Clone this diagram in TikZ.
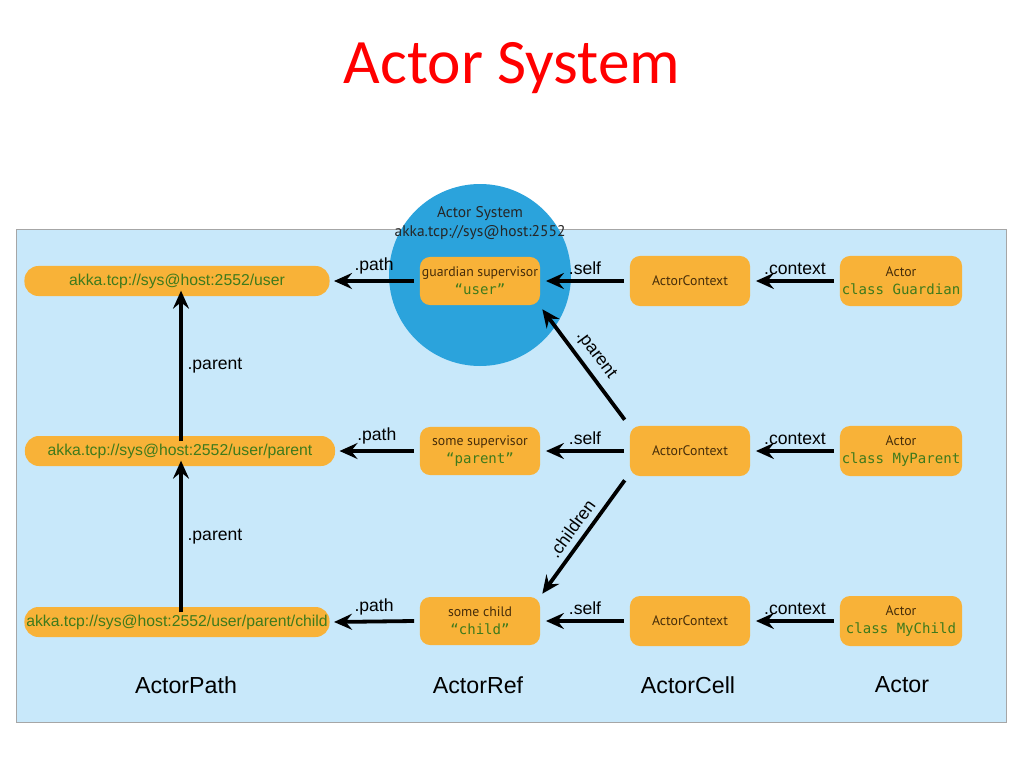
\documentclass[tikz,border=0pt]{standalone}
\usepackage{fontspec}
\setmainfont{Carlito}
\newfontfamily\lblfont{Liberation Sans}
\newfontfamily\boxfont{PT Sans}
\setmonofont{DejaVu Sans Mono}
\usetikzlibrary{arrows.meta}
\definecolor{panelblue}{RGB}{200,232,250}
\definecolor{sysblue}{RGB}{43,163,220}
\definecolor{boxorange}{RGB}{248,178,56}
\definecolor{codegreen}{RGB}{62,122,28}
\definecolor{boxbrown}{RGB}{70,45,10}
\tikzset{
  pathbox/.style={fill=boxorange, rounded corners=0.35cm, minimum width=7.625cm, minimum height=0.75cm, inner sep=0, font=\lblfont\fontsize{11.2}{13}\selectfont, text=codegreen},
  refbox/.style={fill=boxorange, rounded corners=0.25cm, minimum width=3cm, minimum height=1.2cm, inner sep=0, align=center, font=\boxfont\fontsize{9.8}{13}\selectfont, text=boxbrown},
  link/.style={line width=0.95mm, -{Stealth[length=4.5mm, width=4mm, inset=1.6mm]}},
  linklbl/.style={font=\lblfont\fontsize{12.5}{14}\selectfont},
  kind/.style={font=\lblfont\fontsize{16.5}{18}\selectfont}
}
\newcommand{\code}[1]{{\ttfamily\fontsize{10}{12}\selectfont\color{codegreen}#1}}
\begin{document}
\begin{tikzpicture}[x=0.025cm, y=-0.025cm]
			%%%%% START %%%%%
			\useasboundingbox (0, 0) rectangle (1024, 768);
			
			\node[text=red, font=\fontsize{45}{50}\selectfont] (title) at (512, 68) {Actor System};
			
			\draw[fill=panelblue, draw=black!35, line width=0.2mm] (16, 229) rectangle (1006, 722);
			\draw[fill=sysblue, draw=none] (480, 275) circle (91);
			\node[align=center, font=\boxfont\fontsize{11}{13.5}\selectfont, text=black!85] (sysname) at (480, 223) {Actor System\\akka.tcp://sys@host:2552};
			
			% ActorPath
			\node[pathbox] (pUser) at (177, 281) {akka.tcp://sys@host:2552/user};
			\node[pathbox, minimum width=7.75cm] (pParent) at (180, 451) {akka.tcp://sys@host:2552/user/parent};
			\node[pathbox] (pChild) at (177, 622) {akka.tcp://sys@host:2552/user/parent/child};
			\coordinate (upLine) at (181, 0);
			
			% ActorRef
			\node[refbox] (rUser) at (480, 281) {guardian supervisor\\\code{“user”}};
			\node[refbox] (rParent) at (480, 451) {some supervisor\\\code{“parent”}};
			\node[refbox] (rChild) at (480, 621) {some child\\\code{“child”}};
			
			% ActorCell
			\node[refbox, minimum height=1.25cm] (cUser) at (690, 281) {ActorContext};
			\node[refbox, minimum height=1.25cm] (cParent) at (690, 451) {ActorContext};
			\node[refbox, minimum height=1.25cm] (cChild) at (690, 621) {ActorContext};
			
			% Actor
			\node[refbox, minimum width=3.05cm, minimum height=1.25cm] (aGuardian) at (901, 281) {Actor\\\code{class Guardian}};
			\node[refbox, minimum width=3.05cm, minimum height=1.25cm] (aParent) at (901, 451) {Actor\\\code{class MyParent}};
			\node[refbox, minimum width=3.05cm, minimum height=1.25cm] (aChild) at (901, 621) {Actor\\\code{class MyChild}};
			
			% links
			\draw[link] ([xshift=-4]rUser.west) -- node[linklbl, above] {.path} ([xshift=3]pUser.east);
			\draw[link] ([xshift=-4]rParent.west) -- node[linklbl, above] {.path} ([xshift=3]pParent.east);
			\draw[link] ([xshift=-4]rChild.west) -- node[linklbl, above] {.path} ([xshift=3]pChild.east);
			
			\draw[link] ([xshift=-4]cUser.west) -- node[linklbl, above] {.self} ([xshift=4]rUser.east);
			\draw[link] ([xshift=-4]cParent.west) -- node[linklbl, above] {.self} ([xshift=4]rParent.east);
			\draw[link] ([xshift=-4]cChild.west) -- node[linklbl, above] {.self} ([xshift=4]rChild.east);
			
			\draw[link] ([xshift=-4]aGuardian.west) -- node[linklbl, above] {.context} ([xshift=4]cUser.east);
			\draw[link] ([xshift=-4]aParent.west) -- node[linklbl, above] {.context} ([xshift=4]cParent.east);
			\draw[link] ([xshift=-4]aChild.west) -- node[linklbl, above] {.context} ([xshift=4]cChild.east);
			
			\draw[link] ([yshift=-4]upLine |- pParent.north) -- node[linklbl, right] {.parent} ([yshift=4]upLine |- pUser.south);
			\draw[link] ([yshift=-4]upLine |- pChild.north) -- node[linklbl, right] {.parent} ([yshift=4]upLine |- pParent.south);
			
			\draw[link] ([shift={(-5,-6)}]cParent.north west) -- node[linklbl, above=1pt, sloped] {.parent} ([shift={(2,4)}]rUser.south east);
			\draw[link] ([shift={(-5,4)}]cParent.south west) -- node[linklbl, above=1pt, sloped] {.children} ([shift={(2,-3)}]rChild.north east);
			
			% layers
			\node[kind] (kPath) at (186, 685) {ActorPath};
			\node[kind] (kRef) at (478, 685) {ActorRef};
			\node[kind] (kCell) at (688, 685) {ActorCell};
			\node[kind] (kActor) at (902, 685) {Actor};
			
			%%%%% END %%%%%
\end{tikzpicture}
\end{document}
